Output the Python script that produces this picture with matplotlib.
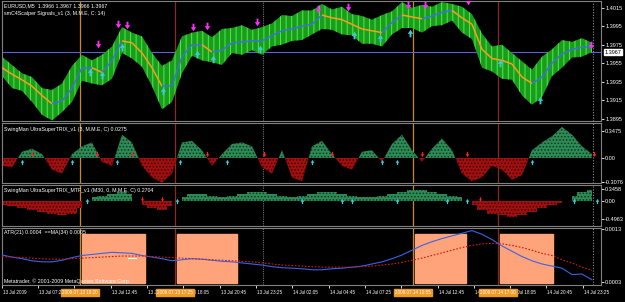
import matplotlib
matplotlib.use('Agg')
import matplotlib.pyplot as plt
import numpy as np
from matplotlib.collections import LineCollection
from matplotlib.path import Path

plt.rcParams['font.family'] = ['Liberation Sans', 'DejaVu Sans']
plt.rcParams['hatch.linewidth'] = 0.7

# ---------------- data ----------------
bars = list(range(0, 600, 10))
ma = [1.3950, 1.3943, 1.3937, 1.3930, 1.3920, 1.3911, 1.3914, 1.3928, 1.3950, 1.3950,
      1.3945, 1.3958, 1.3979, 1.3977, 1.3966, 1.3950, 1.3930, 1.3930, 1.3962, 1.3975,
      1.3975, 1.3967, 1.3969, 1.3977, 1.3978, 1.3979, 1.3979, 1.3985, 1.3990, 1.3992,
      1.3995, 1.3997, 1.4007, 1.4004, 1.4002, 1.3997, 1.3992, 1.3990, 1.3988, 1.3999,
      1.4007, 1.4005, 1.4003, 1.4006, 1.4010, 1.4012, 1.4004, 1.3997, 1.3970, 1.3960,
      1.3958, 1.3954, 1.3940, 1.3933, 1.3940, 1.3955, 1.3965, 1.3970, 1.3972, 1.3973]
hi = [1.3962, 1.3953, 1.3944, 1.3940, 1.3928, 1.3926, 1.3933, 1.3952, 1.3964, 1.3958,
      1.3964, 1.3973, 1.3994, 1.3988, 1.3984, 1.3966, 1.3952, 1.3958, 1.3984, 1.3988,
      1.3990, 1.3983, 1.3992, 1.3993, 1.3996, 1.3991, 1.3994, 1.3998, 1.4007, 1.4006,
      1.4012, 1.4012, 1.4019, 1.4013, 1.4016, 1.4008, 1.4006, 1.4002, 1.4007, 1.4011,
      1.4021, 1.4015, 1.4018, 1.4016, 1.4021, 1.4019, 1.4016, 1.4008, 1.3987, 1.3973,
      1.3975, 1.3966, 1.3957, 1.3948, 1.3962, 1.3970, 1.3980, 1.3978, 1.3982, 1.3977]
lo = [1.3941, 1.3928, 1.3925, 1.3913, 1.3899, 1.3893, 1.3902, 1.3913, 1.3936, 1.3933,
      1.3931, 1.3938, 1.3966, 1.3960, 1.3951, 1.3930, 1.3905, 1.3913, 1.3944, 1.3963,
      1.3958, 1.3956, 1.3953, 1.3966, 1.3964, 1.3969, 1.3964, 1.3973, 1.3975, 1.3979,
      1.3980, 1.3986, 1.3992, 1.3991, 1.3986, 1.3985, 1.3976, 1.3976, 1.3973, 1.3986,
      1.3993, 1.3993, 1.3988, 1.3995, 1.3996, 1.4001, 1.3988, 1.3981, 1.3950, 1.3946,
      1.3938, 1.3937, 1.3920, 1.3910, 1.3918, 1.3941, 1.3950, 1.3961, 1.3962, 1.3967]
sell_x = [96, 116, 125, 191, 205, 255, 316, 346, 406, 423, 466, 589]
sell_y = [1.3976, 1.3997, 1.3996, 1.3994, 1.3995, 1.4000, 1.4014, 1.4016, 1.4018, 1.4018, 1.4022, 1.3975]
buy_x = [88, 100, 120, 161, 195, 211, 258, 352, 378, 408, 498, 538]
buy_y = [1.3945, 1.3942, 1.3972, 1.3925, 1.3965, 1.3960, 1.3970, 1.3985, 1.3982, 1.3988, 1.3955, 1.3915]
price_ticks = [1.3895, 1.3915, 1.3935, 1.3955, 1.3975, 1.3995, 1.4015]
last_price = 1.3967

trix = [-0.10, -0.12, 0.08, 0.12, 0.05, -0.15, -0.20, 0.05, 0.15, 0.20,
        -0.05, -0.10, 0.30, 0.20, -0.10, -0.25, -0.32, -0.20, 0.20, 0.22,
        0.10, -0.10, 0.05, 0.18, 0.20, 0.15, -0.12, -0.20, 0.10, -0.25,
        -0.30, 0.15, 0.22, 0.05, -0.10, -0.15, 0.08, 0.10, -0.05, 0.18,
        0.30, 0.10, -0.05, 0.12, 0.25, 0.10, -0.20, -0.30, -0.25, -0.10,
        -0.15, -0.28, -0.22, 0.10, 0.20, 0.28, 0.40, 0.30, 0.15, 0.05]
trix_dn_x = [30, 95, 130, 205, 262, 330, 420, 465, 592]
trix_up_x = [20, 70, 115, 178, 225, 310, 380, 395, 530]

mtf = [-0.10, -0.15, -0.20, -0.25, -0.30, -0.35, -0.40, -0.35, -0.20, 0.10,
       0.15, 0.20, 0.25, 0.20, -0.10, -0.20, -0.25, -0.15, 0.10, 0.20,
       0.20, 0.15, 0.10, 0.15, 0.20, 0.25, 0.25, 0.20, 0.15, 0.10,
       0.15, 0.20, 0.25, 0.25, 0.20, 0.15, 0.10, 0.10, 0.15, 0.20,
       0.25, 0.30, 0.30, 0.25, 0.20, 0.15, 0.10, -0.10, -0.25, -0.35,
       -0.40, -0.45, -0.40, -0.30, -0.20, -0.10, -0.05, 0.15, 0.25, 0.32]
mtf_up_x = [85, 175, 300, 340, 350, 395, 445, 465, 572, 595]
mtf_dn_x = [140, 160, 478]

atr = [0.00081, 0.00077, 0.00074, 0.00070, 0.00068, 0.00068, 0.00071, 0.00076, 0.00080, 0.00082,
       0.00084, 0.00086, 0.00085, 0.00084, 0.00080, 0.00077, 0.00074, 0.00070, 0.00072, 0.00074,
       0.00073, 0.00071, 0.00069, 0.00068, 0.00066, 0.00064, 0.00062, 0.00059, 0.00057, 0.00056,
       0.00055, 0.00053, 0.00053, 0.00055, 0.00056, 0.00058, 0.00060, 0.00064, 0.00068, 0.00074,
       0.00081, 0.00090, 0.00099, 0.00106, 0.00112, 0.00117, 0.00122, 0.00127, 0.00120, 0.00110,
       0.00098, 0.00088, 0.00078, 0.00070, 0.00064, 0.00060, 0.00056, 0.00044, 0.00045, 0.00034]
atr_ma = [0.00078, 0.00077, 0.00076, 0.00075, 0.00074, 0.00073, 0.00073, 0.00074, 0.00075, 0.00076,
          0.00077, 0.00078, 0.00079, 0.00079, 0.00079, 0.00078, 0.00077, 0.00076, 0.00075, 0.00074,
          0.00073, 0.00072, 0.00071, 0.00070, 0.00069, 0.00068, 0.00066, 0.00064, 0.00062, 0.00061,
          0.00060, 0.00059, 0.00058, 0.00058, 0.00058, 0.00058, 0.00059, 0.00060, 0.00062, 0.00064,
          0.00067, 0.00071, 0.00075, 0.00080, 0.00085, 0.00090, 0.00095, 0.00099, 0.00102, 0.00103,
          0.00102, 0.00099, 0.00095, 0.00090, 0.00084, 0.00080, 0.00072, 0.00066, 0.00058, 0.00052]
session_start = [78, 173, 411, 496]
session_end = [143, 235, 464, 551]
session_labels = ['2009.07.13 10:20', '2009.07.13 17:25', '2009.07.14 10:55', '2009.07.14 17:00']
session_colors = ['#c88a1e', '#8b2a1a', '#c88a1e', '#8b2a1a']
day_sep = [261]
time_ticks = [0, 36, 72, 109, 145, 181, 218, 254, 290, 327, 363, 399, 436, 472, 508, 544, 581]
time_labels = ['13 Jul 2009', '13 Jul 07:25', '13 Jul 10:05', '13 Jul 12:45', '13 Jul 15:25',
               '13 Jul 18:05', '13 Jul 20:45', '13 Jul 23:25', '14 Jul 02:05', '14 Jul 04:45',
               '14 Jul 07:25', '14 Jul 10:05', '14 Jul 12:45', '14 Jul 15:25', '14 Jul 18:05',
               '14 Jul 20:45', '14 Jul 23:25']
last_bar = 591

# ---------------- figure ----------------
W, H = 625, 302
fig = plt.figure(figsize=(W / 100, H / 100), dpi=100, facecolor='black')
FS = 3.8     # panel texts
FR = 4.0     # right axis labels
FX = 3.3     # time labels
GRAY = '#808080'

DOWN = Path([(-0.25, 1), (0.25, 1), (0.25, 0.1), (0.7, 0.1), (0, -1), (-0.7, 0.1), (-0.25, 0.1), (-0.25, 1)])
UP = Path([(-0.25, -1), (0.25, -1), (0.25, -0.1), (0.7, -0.1), (0, 1), (-0.7, -0.1), (-0.25, -0.1), (-0.25, -1)])

def ax_px(l, t, r, b):
    a = fig.add_axes([l / W, 1 - b / H, (r - l) / W, (b - t) / H], facecolor='black')
    for s in a.spines.values():
        s.set_color(GRAY)
        s.set_linewidth(0.8)
    a.set_xlim(0, 599)
    a.yaxis.tick_right()
    a.tick_params(axis='y', colors='white', labelsize=FR, length=2, width=0.6, pad=1)
    a.tick_params(axis='x', bottom=False, labelbottom=False)
    return a

ax1 = ax_px(2, 1, 601, 121)
ax2 = ax_px(2, 123, 601, 183)
ax3 = ax_px(2, 185, 601, 226)
ax4 = ax_px(2, 228, 601, 285)
axes = [ax1, ax2, ax3, ax4]

for a in axes:
    for sx, c in zip(session_start, session_colors):
        a.axvline(sx, color=c, lw=0.9, zorder=1)
    for d in day_sep:
        a.axvline(d, color='#707070', lw=0.8, ls=(0, (1, 1)), zorder=1)
    a.axvline(last_bar, color='#909090', lw=0.8, ls=(0, (1, 1.5)), zorder=1)

# --- main panel ---
ax1.set_ylim(1.38924, 1.40222)
x = np.array(bars)
ax1.fill_between(x, lo, hi, facecolor='#1c9c1c', edgecolor='#48f048', hatch='|||', lw=0, zorder=2)
pts = np.column_stack([x, ma])
segs = np.stack([pts[:-1], pts[1:]], axis=1)
cols = ['#ff9a1e' if b < a_ else '#3f6fe0' for a_, b in zip(ma[:-1], ma[1:])]
ax1.add_collection(LineCollection(segs, colors=cols, linewidths=1.1, zorder=3))
ax1.axhline(last_price, color='#5a64d8', lw=0.8, zorder=1)
ax1.scatter(sell_x, sell_y, marker=DOWN, s=30, color='#ff2bff', zorder=4, linewidths=0)
ax1.scatter(buy_x, buy_y, marker=UP, s=30, color='#3fc8d8', zorder=4, linewidths=0)
ax1.set_yticks(price_ticks)
ax1.set_yticklabels([f'{v:.4f}' for v in price_ticks])
ax1.text(1.006, (last_price - 1.38924) / (1.40222 - 1.38924), f'{last_price:.4f}',
         transform=ax1.transAxes, fontsize=FR, color='black', va='center', ha='left',
         bbox=dict(boxstyle='square,pad=0.15', fc='white', ec='white'))
ax1.text(0.004, 0.985, 'EURUSD,M5  1.3966 1.3967 1.3966 1.3967', transform=ax1.transAxes,
         fontsize=FS, color='white', va='top')
ax1.text(0.004, 0.915, 'smC4Scalper Signals_v1 (3, M.M.E, C: 14)', transform=ax1.transAxes,
         fontsize=FS, color='white', va='top')

# --- SwingMan TRIX ---
ax2.set_ylim(-0.322, 0.45)
tx = np.array(bars)
tv = np.array(trix)
ax2.fill_between(tx, 0, tv, where=tv >= 0, interpolate=True, facecolor='#2e8b57',
                 edgecolor='#0a3a1a', hatch='.....', lw=0, zorder=2)
ax2.fill_between(tx, 0, tv, where=tv <= 0, interpolate=True, facecolor='#a01010',
                 edgecolor='#400000', hatch='.....', lw=0, zorder=2)
ax2.scatter(trix_dn_x, [0.05] * len(trix_dn_x), marker=DOWN, s=14, color='#ff2020', zorder=4, linewidths=0)
ax2.scatter(trix_up_x, [-0.05] * len(trix_up_x), marker=UP, s=14, color='#3fc8d8', zorder=4, linewidths=0)
ax2.set_yticks([-0.3076, 0.0, 0.3475])
ax2.set_yticklabels(['-0.3076', '0.00', '0.3475'])
ax2.text(0.004, 0.93, 'SwingMan UltraSuperTRIX_v1 (3, M.M.E, C) 0.0275', transform=ax2.transAxes,
         fontsize=FS, color='white', va='top')

# --- SwingMan MTF ---
ax3.set_ylim(-0.70, 0.45)
mv = np.array(mtf)
ax3.fill_between(tx, 0, mv, where=mv >= 0, step='mid', facecolor='#2e8b57',
                 edgecolor='#0a3a1a', hatch='.....', lw=0, zorder=2)
ax3.fill_between(tx, 0, mv, where=mv <= 0, step='mid', facecolor='#a01010',
                 edgecolor='#400000', hatch='.....', lw=0, zorder=2)
ax3.scatter(mtf_up_x, [0.0] * len(mtf_up_x), marker=UP, s=14, color='#3fc8d8', zorder=4, linewidths=0)
ax3.scatter(mtf_dn_x, [0.05] * len(mtf_dn_x), marker=DOWN, s=10, color='#ff2020', zorder=4, linewidths=0)
ax3.set_yticks([-0.4963, 0.0, 0.3458])
ax3.set_yticklabels(['-0.4963', '0.00', '0.3458'])
ax3.text(0.004, 0.93, 'SwingMan UltraSuperTRIX_MTF_v1 (M30, 0, M.M.E, C) 0.2704',
         transform=ax3.transAxes, fontsize=FS, color='white', va='top')

# --- ATR ---
ax4.set_ylim(0.000243, 0.001319)
for s0, s1 in zip(session_start, session_end):
    ax4.axvspan(s0 + 2, s1, ymin=0.035, ymax=0.895, facecolor='#ffa47a', edgecolor='#ffa47a', zorder=1)
ax4.plot(bars, atr, color='#3a62e8', lw=0.8, zorder=3)
ax4.plot(bars, atr_ma, color='#d01818', lw=0.8, ls=(0, (1.5, 1.5)), zorder=3)
ax4.plot([126, 134], [0.00075, 0.00075], color='white', lw=0.8, zorder=4)
ax4.set_yticks([0.0003, 0.0013])
ax4.set_yticklabels(['0.0003', '0.0013'])
ax4.text(0.004, 0.97, 'ATR(21) 0.0004  ==MA(34) 0.0005', transform=ax4.transAxes,
         fontsize=FS, color='white', va='top', zorder=5)
ax4.text(0.004, 0.02, 'Metatrader, \u00a9 2001-2009 MetaQuotes Software Corp.', transform=ax4.transAxes,
         fontsize=FS, color='white', va='bottom', zorder=5)

ax4.set_xticks(time_ticks)
ax4.tick_params(axis='x', bottom=True, colors='white', length=2, width=0.6, labelbottom=False)
for t, lab in zip(time_ticks, time_labels):
    ax4.text(t + 1, -0.09, lab, transform=ax4.get_xaxis_transform(), fontsize=FX,
             color='white', va='top', ha='left', zorder=3)
for sx, lab in zip(session_start, session_labels):
    ax4.text(sx, -0.09, lab, transform=ax4.get_xaxis_transform(), fontsize=FX,
             color='white', va='top', ha='center', zorder=6,
             bbox=dict(boxstyle='square,pad=0.2', fc='#f09a20', ec='#f09a20'))

fig.savefig('out.png', dpi=100, facecolor='black')
